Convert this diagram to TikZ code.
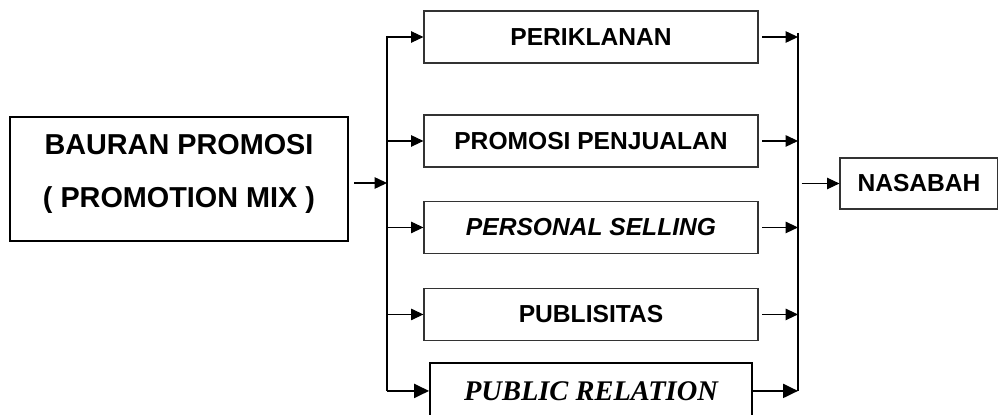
\documentclass[tikz,border=0pt]{standalone}
\usepackage{fontspec}
\setmainfont{Liberation Sans}
\newfontfamily\timesfont{Liberation Serif}
\usetikzlibrary{positioning,arrows.meta}

\begin{document}
\begin{tikzpicture}[x=0.02cm,y=-0.02cm,node distance=2cm,on grid,
   box/.style={draw=black!80,line width=0.7pt,minimum width=6.68cm,minimum height=1.04cm,
     inner sep=0pt,font=\fontsize{14}{16}\selectfont\bfseries},
   mixbox/.style={draw,line width=1.1pt,minimum width=6.76cm,minimum height=2.48cm,
     inner sep=0pt,align=center,font=\fontsize{16.4}{30}\selectfont\bfseries},
   prbox/.style={draw,line width=1.1pt,minimum width=6.44cm,minimum height=1.12cm,
     inner sep=0pt,font=\fontsize{16.2}{18}\selectfont\timesfont\bfseries\itshape},
   line/.style={line width=0.6pt},
   link/.style={line,-{Triangle[length=7pt,width=6.5pt]}},
   biglink/.style={line width=1pt,-{Triangle[length=8.5pt,width=8pt]}}]
   \useasboundingbox (0,0) rectangle (998,415);
   \node[mixbox] (mix) at (179,179) {BAURAN PROMOSI\\( PROMOTION MIX )\\[-21pt]\mbox{}};
   \node[box] (peri) at (591,37) {PERIKLANAN};
   \node[box] (promo) [below=2.08cm of peri] {PROMOSI PENJUALAN};
   \node[box] (pers) [below=1.73cm of promo] {\itshape PERSONAL SELLING};
   \node[box] (publ) [below=1.74cm of pers] {PUBLISITAS};
   \node[prbox] (pr) [below=1.53cm of publ] {PUBLIC RELATION};
   \node[box,minimum width=3.16cm,minimum height=1.02cm] (nas) at (919,183.5) {NASABAH};
   \coordinate (busL) at (387,36);
   \coordinate (busR) at (798,33);
   % left side
   \draw[line] (busL) -- (busL |- pr);
   \draw[link,shorten <=3pt] (mix.east |- 0,183) -- (busL |- 0,183);
   \foreach \n in {peri,promo,pers,publ}
     \draw[link] (busL |- \n) -- (\n);
   \draw[biglink] (busL |- pr) -- (pr);
   % right side
   \draw[line] (busR) -- (busR |- pr);
   \foreach \n in {peri,promo,pers,publ}
     \draw[link,shorten <=2pt] (\n) -- (\n -| busR);
   \draw[biglink] (pr) -- (pr -| busR);
   \draw[link,shorten <=2pt] (busR |- nas) -- (nas);
\end{tikzpicture}
\end{document}
